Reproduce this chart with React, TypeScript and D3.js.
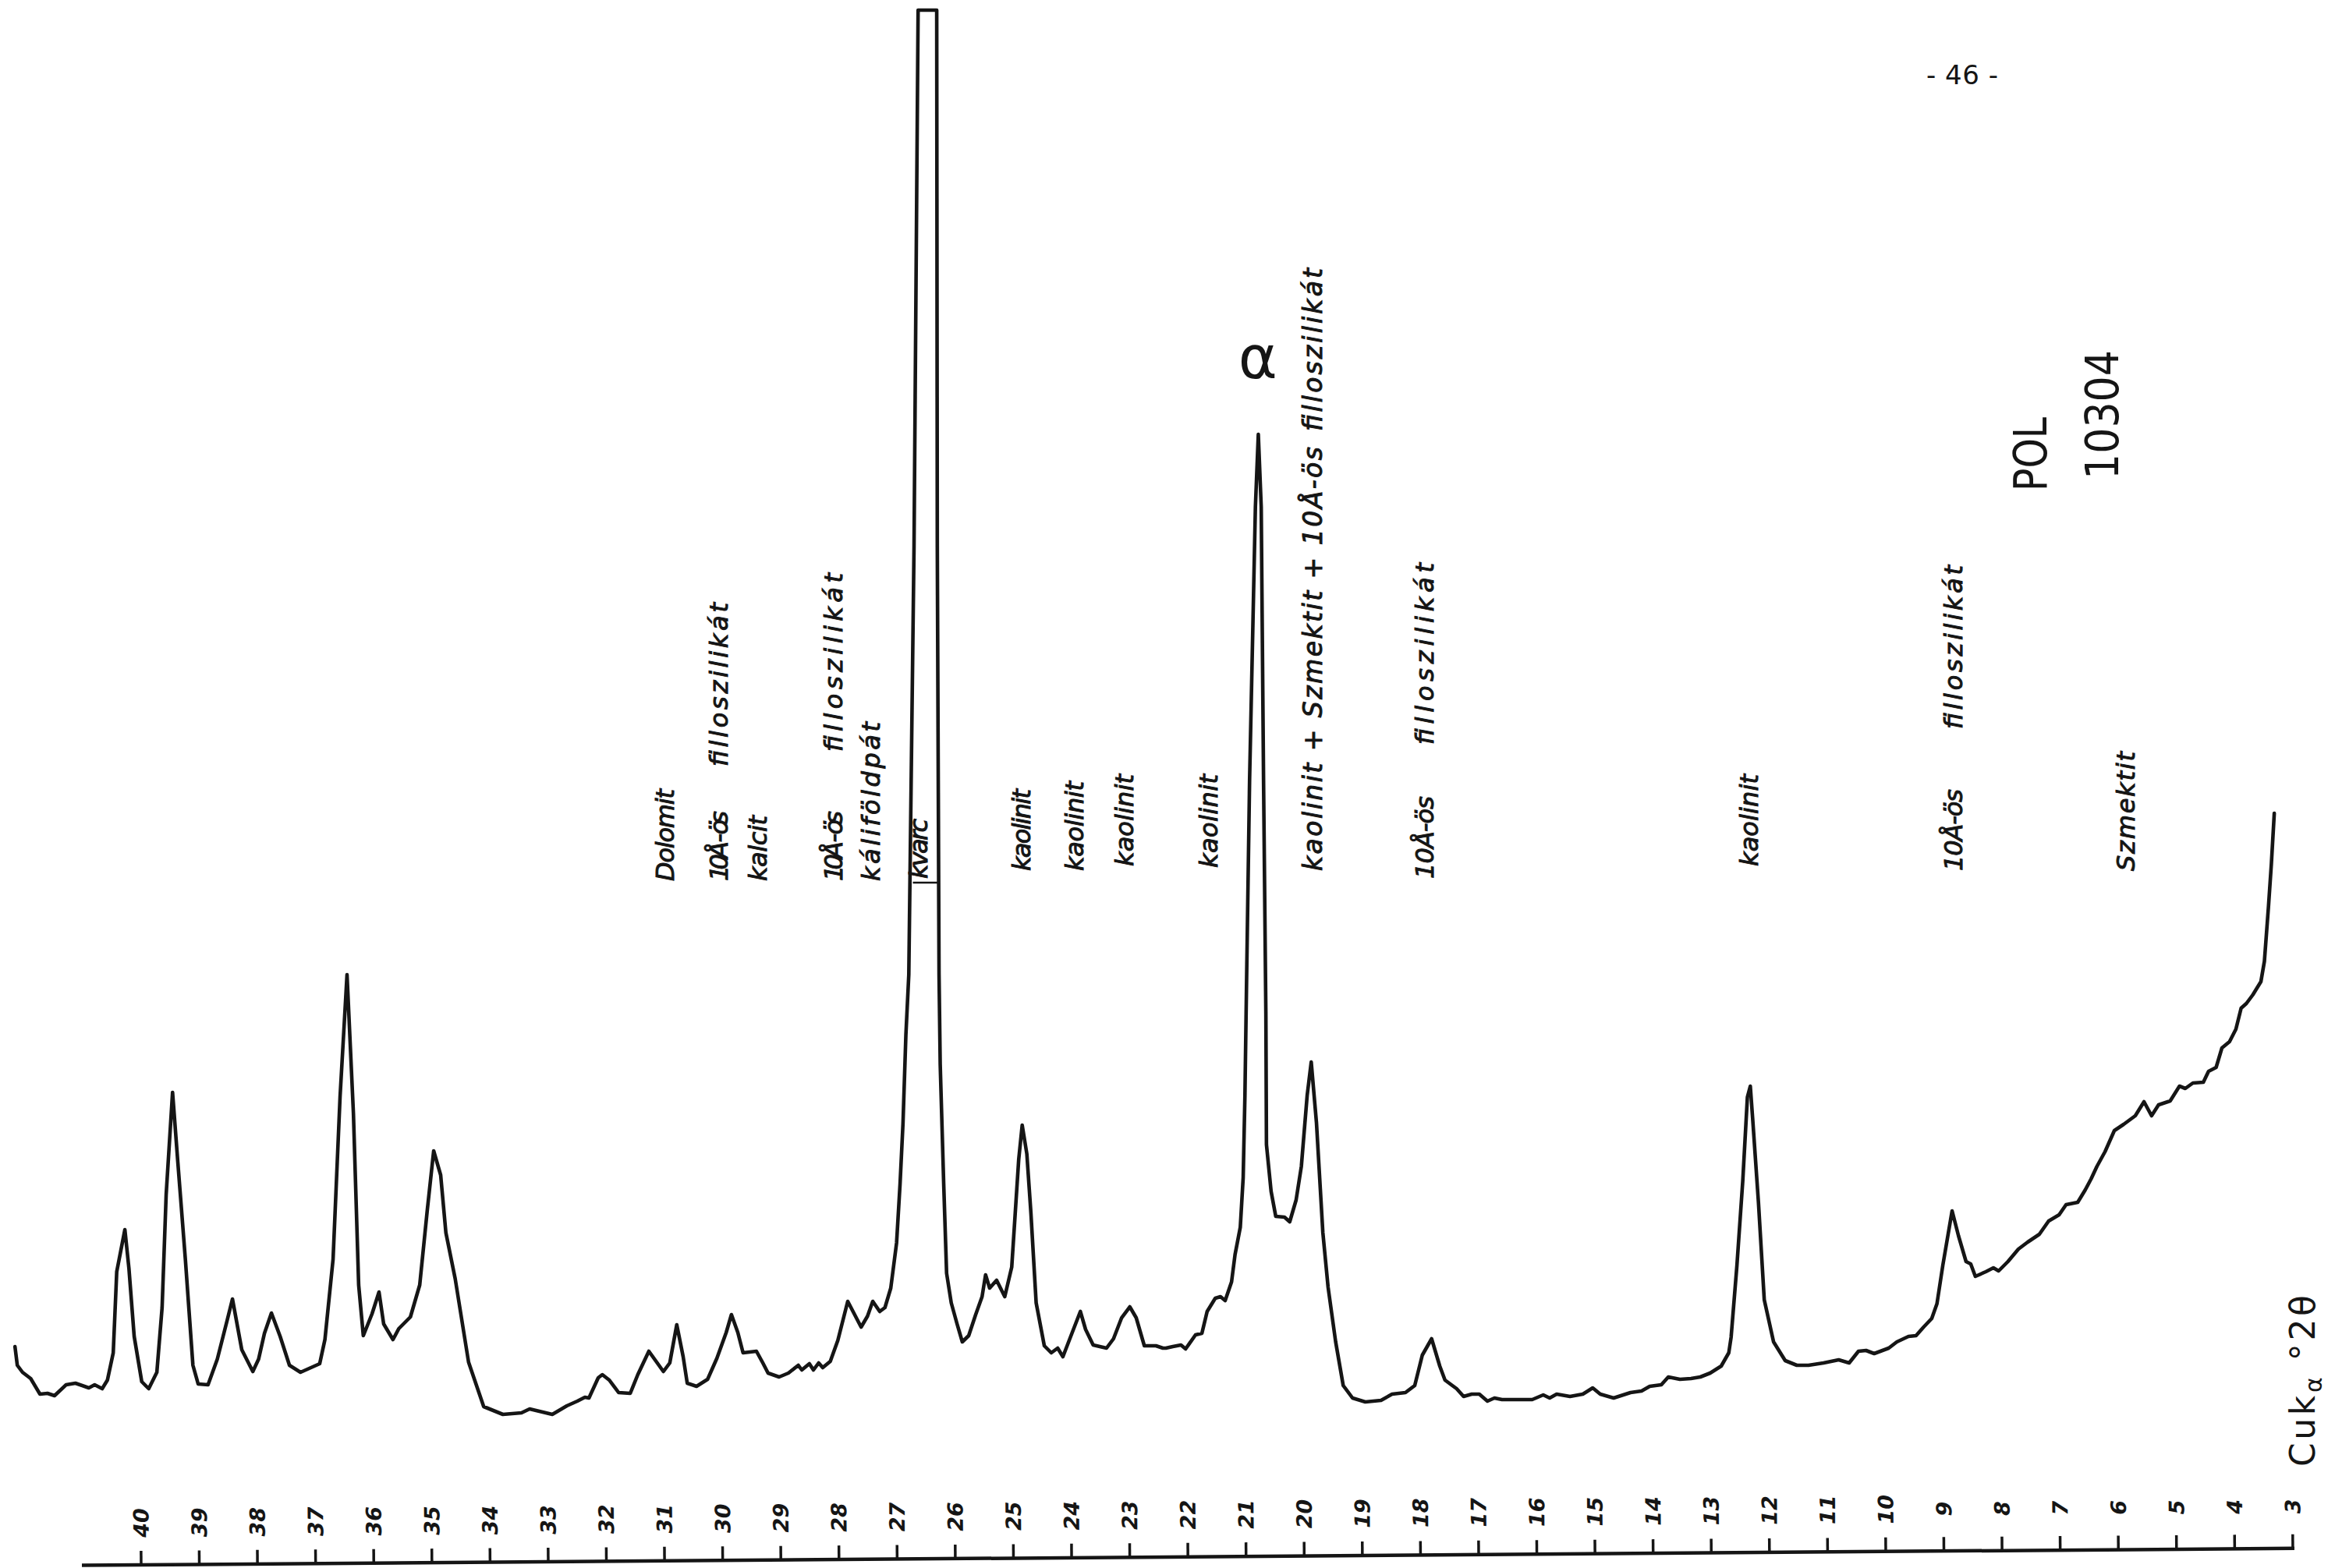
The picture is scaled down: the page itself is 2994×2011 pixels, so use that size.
import React from 'react';
import * as d3 from 'd3';

const W = 2994;
const H = 2011;

// ---- diffractogram trace: [°2θ, intensity (arb.)] ----
const scanHighAngle: [number, number][] = [
  [42.17, 273], [42.13, 249], [42.04, 240], [41.9, 232], [41.74, 212], [41.61, 213], [41.49, 210],
  [41.29, 224], [41.13, 226], [40.9, 220], [40.8, 224], [40.67, 219], [40.58, 230], [40.48, 265],
  [40.42, 369], [40.28, 423], [40.21, 373], [40.12, 286], [39.99, 228], [39.87, 219], [39.73, 240],
  [39.64, 323], [39.57, 468], [39.46, 599], [39.37, 510], [39.24, 385], [39.11, 249], [39.02, 225],
  [38.85, 224], [38.69, 257], [38.52, 307], [38.43, 334], [38.27, 269], [38.08, 241], [37.98, 257],
  [37.88, 290], [37.76, 316], [37.61, 286], [37.45, 249], [37.26, 240], [36.93, 251], [36.84, 282],
  [36.7, 385], [36.58, 593], [36.46, 750], [36.35, 572], [36.26, 352], [36.18, 287], [36.03, 315],
  [35.91, 343], [35.83, 302], [35.67, 282], [35.57, 296], [35.37, 311], [35.21, 352], [35.08, 448],
  [34.97, 524], [34.85, 493], [34.76, 419], [34.6, 360], [34.37, 253], [34.11, 196], [33.78, 186],
  [33.46, 188], [33.32, 193], [32.93, 186], [32.68, 197],
];

const scanQuartzRegion: [number, number][] = [
  [32.5, 203], [32.37, 208], [32.3, 207], [32.14, 233], [32.07, 237], [31.95, 230], [31.79, 214],
  [31.59, 213], [31.46, 237], [31.27, 267], [31.02, 241], [30.91, 252], [30.79, 301], [30.68, 260],
  [30.61, 226], [30.45, 222], [30.26, 231], [30.1, 258], [29.94, 291], [29.85, 314], [29.74, 291],
  [29.65, 265], [29.42, 267], [29.31, 252], [29.22, 239], [29.03, 234], [28.87, 239], [28.7, 249],
  [28.64, 243], [28.51, 251], [28.44, 243], [28.35, 252], [28.28, 246], [28.15, 254], [28.02, 281],
  [27.85, 331], [27.62, 298], [27.51, 312], [27.42, 331], [27.3, 318], [27.21, 323], [27.11, 348],
  [27.01, 406], [26.95, 482], [26.9, 559], [26.85, 673], [26.8, 750], [26.71, 1300], [26.64, 1987],
  [26.32, 1987], [26.31, 1300], [26.28, 750], [26.26, 635], [26.2, 482], [26.15, 367], [26.07, 329],
  [25.97, 302], [25.88, 279], [25.77, 287], [25.65, 314], [25.54, 337], [25.48, 365], [25.41, 348],
  [25.29, 358], [25.15, 337], [25.03, 375], [24.97, 444], [24.91, 513], [24.85, 557], [24.77, 520],
  [24.7, 444], [24.61, 329], [24.47, 274], [24.35, 265], [24.24, 271], [24.15, 260], [23.99, 291],
  [23.85, 318], [23.76, 295], [23.63, 275], [23.4, 271], [23.28, 283], [23.14, 310], [23.0, 324],
  [22.89, 310], [22.75, 274], [22.55, 274], [22.43, 271],
];

const scanMidAngle: [number, number][] = [
  [22.38, 271], [22.26, 273], [22.12, 275], [22.04, 270], [21.87, 288], [21.76, 290], [21.67, 318],
  [21.53, 335], [21.44, 337], [21.36, 332], [21.25, 356], [21.19, 391], [21.1, 426], [21.05, 490],
  [21.02, 595], [21.0, 700], [20.94, 1000], [20.84, 1350], [20.79, 1443], [20.74, 1350], [20.7, 1000],
  [20.66, 700], [20.65, 532], [20.57, 472], [20.49, 440], [20.34, 439], [20.25, 433], [20.14, 461],
  [20.05, 504], [19.95, 595], [19.88, 638], [19.79, 560], [19.68, 419], [19.59, 349], [19.46, 279],
  [19.33, 223], [19.17, 207], [18.95, 202], [18.68, 204], [18.49, 212], [18.26, 214], [18.1, 223],
  [17.97, 262], [17.81, 283], [17.67, 248], [17.58, 230], [17.38, 219], [17.26, 209], [17.12, 212],
  [16.99, 212], [16.85, 203], [16.73, 207], [16.6, 205], [16.34, 205], [16.08, 205], [15.89, 211],
  [15.78, 207], [15.66, 212], [15.43, 209], [15.21, 212], [15.04, 220], [14.91, 212], [14.68, 207],
  [14.39, 214], [14.2, 216], [14.06, 222], [13.86, 224], [13.74, 234], [13.54, 231], [13.35, 232],
  [13.19, 234], [13.02, 239], [12.83, 248], [12.7, 265],
];

const scanLowAngle: [number, number][] = [
  [12.66, 285], [12.56, 377], [12.46, 485], [12.38, 593], [12.33, 607], [12.29, 566], [12.19, 458],
  [12.09, 333], [11.93, 279], [11.73, 255], [11.53, 249], [11.33, 249], [11.07, 252], [10.81, 256],
  [10.63, 252], [10.47, 267], [10.34, 268], [10.2, 264], [9.95, 271], [9.81, 279], [9.61, 286],
  [9.48, 287], [9.35, 298], [9.21, 309], [9.12, 328], [9.02, 377], [8.86, 447], [8.75, 415],
  [8.62, 382], [8.54, 379], [8.46, 363], [8.28, 369], [8.15, 374], [8.06, 370], [7.9, 382],
  [7.72, 398], [7.56, 407], [7.36, 417], [7.2, 434], [7.02, 442], [6.9, 455], [6.7, 458],
  [6.57, 474], [6.47, 488], [6.37, 504], [6.23, 523], [6.07, 550], [5.91, 558], [5.71, 569],
  [5.56, 587], [5.43, 569], [5.31, 583], [5.11, 588], [4.95, 607], [4.85, 604], [4.72, 611],
  [4.54, 612], [4.45, 626], [4.32, 631], [4.22, 656], [4.09, 664], [3.98, 680], [3.89, 707],
  [3.8, 713], [3.69, 724], [3.55, 741], [3.49, 767], [3.42, 837], [3.37, 892], [3.32, 957],
];

// ---- axis ticks (°2θ) ----
const tickValues = [40, 39, 38, 37, 36, 35, 34, 33, 32, 31, 30, 29, 28, 27, 26, 25, 24, 23, 22, 21,
  20, 19, 18, 17, 16, 15, 14, 13, 12, 11, 10, 9, 8, 7, 6, 5, 4, 3];

// ---- peak identifications: position (°2θ) and text pieces ----
const peakLabelAngles = [30.99, 30.06, 29.39, 28.09, 27.45, 26.63, 24.86, 23.95, 23.09, 21.64,
  19.84, 17.93, 12.35, 8.83, 5.87];
const peakLabelTexts: string[][] = [
  ['Dolomit'],
  ['10Å - ös', 'filloszilikát'],
  ['kalcit'],
  ['10Å - ös', 'filloszilikát'],
  ['káliföldpát'],
  ['kvarc'],
  ['kaolinit'],
  ['kaolinit'],
  ['kaolinit'],
  ['kaolinit'],
  ['kaolinit + Szmektit + 10Å-ös', 'filloszilikát'],
  ['10Å-ös', 'filloszilikát'],
  ['kaolinit'],
  ['10Å-ös', 'filloszilikát'],
  ['Szmektit'],
];
// layout only: [bottom y, top y] of each text piece
const peakLabelSpans: [number, number][][] = [
  [[1130, 1012]],
  [[1130, 1040], [983, 773]],
  [[1130, 1046]],
  [[1130, 1040], [964, 735]],
  [[1130, 926]],
  [[1127, 1050]],
  [[1117, 1012]],
  [[1117, 1002]],
  [[1111, 993]],
  [[1113, 993]],
  [[1117, 573], [553, 344]],
  [[1127, 1021], [955, 722]],
  [[1111, 993]],
  [[1117, 1012], [935, 725]],
  [[1117, 964]],
];

const INK = '#151515';

export default function App() {
  const x = d3.scaleLinear().domain([40, 3]).range([181, 2940]);
  const y = d3.scaleLinear().domain([0, 2000]).range([2000, 0]);

  const trace = [...scanHighAngle, ...scanQuartzRegion, ...scanMidAngle, ...scanLowAngle];
  const line = d3
    .line<[number, number]>()
    .x((d) => x(d[0]))
    .y((d) => y(d[1]))
    .curve(d3.curveLinear);

  const hand = "'DejaVu Sans', 'Noto Sans', sans-serif";
  const axisY = 2007;

  return (
    <svg
      width={W}
      height={H}
      viewBox={`0 0 ${W} ${H}`}
      style={{ position: 'absolute', left: 0, top: 0, display: 'block', background: '#fff' }}
    >
      <rect x={0} y={0} width={W} height={H} fill="#fff" />

      {/* trace */}
      <path d={line(trace) || ''} fill="none" stroke={INK} strokeWidth={4.6} strokeLinejoin="round" strokeLinecap="round" />

      {/* crossbar under "kvarc" */}
      <line x1={x(26.73)} x2={x(26.28)} y1={1132} y2={1132} stroke={INK} strokeWidth={2.5} />

      {/* peak identifications */}
      {peakLabelAngles.map((a, i) =>
        peakLabelTexts[i].map((t, j) => {
          const [yb, yt] = peakLabelSpans[i][j];
          const fs = i === 10 ? 33 : 32;
          return (
            <text
              key={`${i}-${j}`}
              transform={`translate(${x(a) + 11},${yb}) rotate(-90)`}
              fontFamily={hand}
              fontStyle="italic"
              fontSize={fs}
              fill={INK}
              stroke={INK}
              strokeWidth={1}
              textLength={yb - yt}
              lengthAdjust="spacing"
            >
              {t}
            </text>
          );
        })
      )}

      {/* alpha mark above the 20.8° peak */}
      <text x={x(20.8)} y={485} textAnchor="middle" fontFamily={hand} fontSize={76} fill={INK}>
        α
      </text>

      {/* page number */}
      <text x={2470} y={108} fontFamily={hand} fontSize={34} fill={INK} textLength={92} lengthAdjust="spacing">
        - 46 -
      </text>

      {/* sample id */}
      <text transform="translate(2624,630) rotate(-90)" fontFamily={hand} fontSize={58} fill={INK} textLength={95} lengthAdjust="spacingAndGlyphs">
        POL
      </text>
      <text transform="translate(2716,615) rotate(-90)" fontFamily={hand} fontSize={58} fill={INK} textLength={166} lengthAdjust="spacingAndGlyphs">
        10304
      </text>

      {/* axis title */}
      <text transform="translate(2968,1881) rotate(-90)" fontFamily={hand} fontSize={44} fill={INK} textLength={220} lengthAdjust="spacing">
        <tspan>Cuk</tspan>
        <tspan fontSize={30} dy={9}>α</tspan>
        <tspan dy={-9}>{'   °2θ'}</tspan>
      </text>

      {/* bottom axis, slightly tilted like the scan */}
      <g transform={`rotate(-0.44, 181, ${axisY})`}>
        <line x1={105} x2={x(3) + 2} y1={axisY} y2={axisY} stroke={INK} strokeWidth={4.5} />
        {tickValues.map((t) => (
          <g key={t}>
            <line x1={x(t)} x2={x(t)} y1={axisY} y2={axisY - 18} stroke={INK} strokeWidth={3.5} />
            <text
              transform={`translate(${x(t) + 10},${axisY - 54}) rotate(-90)`}
              textAnchor="middle"
              fontFamily={hand}
              fontWeight="bold"
              fontStyle="italic"
              fontSize={27}
              fill={INK}
            >
              {t}
            </text>
          </g>
        ))}
      </g>
    </svg>
  );
}
